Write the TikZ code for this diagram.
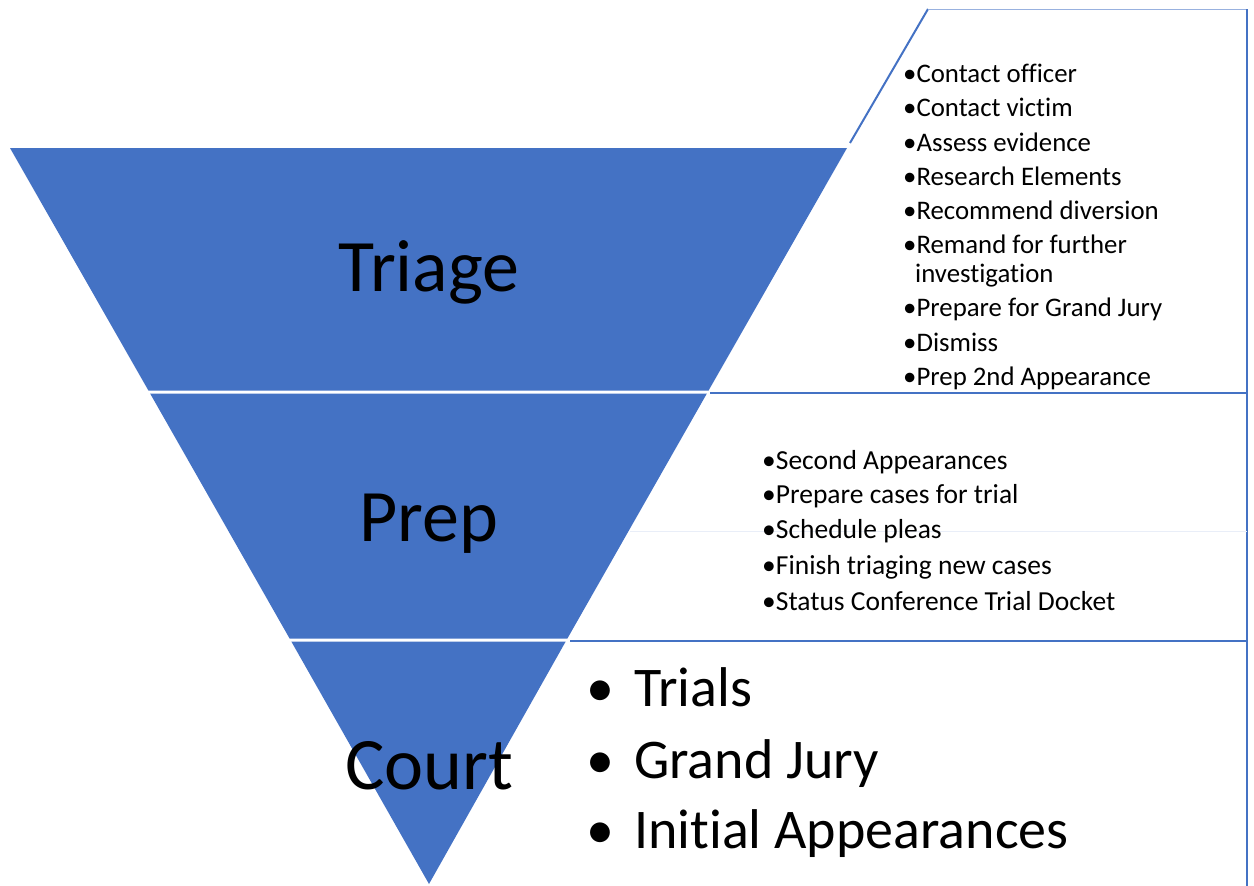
\documentclass[tikz,border=0pt]{standalone}
\usepackage{fontspec}
\setmainfont{Carlito}[Ligatures={NoCommon}]
\definecolor{fblue}{HTML}{4472C4}
\begin{document}
\begin{tikzpicture}[x=1pt,y=-1pt,
  big/.style={font=\fontsize{74}{84}\selectfont, anchor=base, inner sep=0pt},
  item/.style={font=\fontsize{26.8}{30}\selectfont, anchor=base west, inner sep=0pt},
  pitem/.style={font=\fontsize{27.5}{31}\selectfont, anchor=base west, inner sep=0pt},
  courtitem/.style={font=\fontsize{56}{64}\selectfont, anchor=base west, inner sep=0pt},
  frame/.style={draw=fblue, line width=2.4pt},
  seg/.style={fill=fblue, draw=none}]
\useasboundingbox (0,0) rectangle (1254,886);
% funnel segments
\fill[seg] (10,148) -- (847,148) -- (708.6,390.5) -- (148.4,390.5) -- cycle;
\fill[seg] (150.1,393.5) -- (706.9,393.5) -- (567.4,638.5) -- (289.6,638.5) -- cycle;
\fill[seg] (291.3,641.5) -- (565.7,641.5) -- (429,884) -- cycle;
% frame lines
\coordinate (slA) at (850,143);
\coordinate (slB) at (928,9);
\coordinate (tr) at (1247,9);
\coordinate (br) at (1247,886);
\coordinate (h1a) at (710,393);
\coordinate (h1b) at (1247,393);
\coordinate (h2a) at (570,641);
\coordinate (h2b) at (1247,641);
\coordinate (h3a) at (630,531);
\coordinate (h3b) at (1247,531);
\draw[fblue, line width=2pt] (slA) -- (slB);
\draw[fblue!55, line width=1pt] (slB) -- (tr);
\draw[frame] (tr) -- (br);
\draw[frame] (h1a) -- (h1b);
\draw[frame] (h2a) -- (h2b);
\draw[fblue!12, line width=1pt] (h3a) -- (h3b);
% labels
\node[big] (triage) at (429,291) {Triage};
\node[big] (prep) at (429,541) {Prep};
\node[big] (court) at (429,789) {Court};
% triage list
\node[item] (a1) at (903,82) {•Contact officer};
\node[item] (a2) at (903,116) {•Contact victim};
\node[item] (a3) at (903,151) {•Assess evidence};
\node[item] (a4) at (903,185) {•Research Elements};
\node[item] (a5) at (903,219) {•Recommend diversion};
\node[item] (a6) at (903,253) {•Remand for further};
\node[item] (a6b) at (915,282) {investigation};
\node[item] (a7) at (903,316) {•Prepare for Grand Jury};
\node[item] (a8) at (903,351) {•Dismiss};
\node[item] (a9) at (903,385) {•Prep 2nd Appearance};
% prep list
\node[pitem] (b1) at (762,469) {•Second Appearances};
\node[pitem] (b2) at (762,503) {•Prepare cases for trial};
\node[pitem] (b3) at (762,538) {•Schedule pleas};
\node[pitem] (b4) at (762,574) {•Finish triaging new cases};
\node[pitem] (b5) at (762,610) {•Status Conference Trial Docket};
% court list
\node[courtitem, anchor=base] (cb1) at (600,706) {•};
\node[courtitem] (c1) at (634,706) {Trials};
\node[courtitem, anchor=base] (cb2) at (600,778) {•};
\node[courtitem] (c2) at (634,778) {Grand Jury};
\node[courtitem, anchor=base] (cb3) at (600,848) {•};
\node[courtitem] (c3) at (634,848) {Initial Appearances};
\end{tikzpicture}
\end{document}
